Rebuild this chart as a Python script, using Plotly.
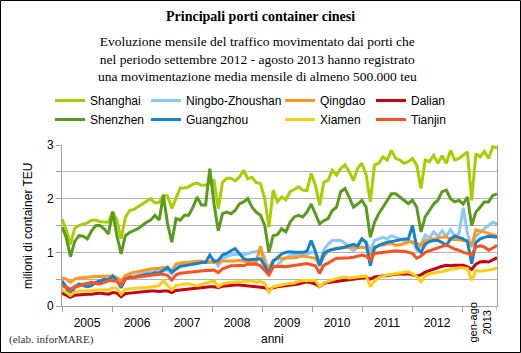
import plotly.graph_objects as go

# ---------------- data (million TEU per month, Jan 2005 - Aug 2013) ----------------
shanghai = [
    1.62, 1.42, 1.15, 1.45, 1.50, 1.52, 1.55, 1.60, 1.60, 1.57, 1.57, 1.56,
    1.76, 1.60, 1.25, 1.65, 1.78, 1.80, 1.85, 1.90, 1.95, 2.00, 1.92, 1.93,
    2.06, 2.05, 1.82, 2.00, 2.20, 2.20, 2.22, 2.27, 2.29, 2.25, 2.25, 2.30,
    2.34, 1.81, 2.30, 2.38, 2.38, 2.33, 2.40, 2.53, 2.37, 2.40, 2.30, 2.28,
    2.00, 1.47, 2.16, 1.94, 2.03, 1.98, 2.13, 2.17, 2.22, 2.16, 2.15, 2.47,
    2.25, 1.88, 2.31, 2.34, 2.53, 2.44, 2.56, 2.63, 2.50, 2.34, 2.56, 2.66,
    2.45, 1.94, 2.63, 2.66, 2.78, 2.72, 2.90, 2.75, 2.72, 2.66, 2.69, 2.75,
    2.62, 2.19, 2.72, 2.69, 2.81, 2.66, 2.80, 2.66, 2.90, 2.72, 2.75, 2.81,
    2.87, 1.97, 2.84, 2.78, 2.88, 2.75, 2.97, 2.94,
]
shenzhen = [
    1.47, 1.28, 0.92, 1.20, 1.31, 1.30, 1.25, 1.40, 1.50, 1.50, 1.44, 1.34,
    1.75, 1.31, 0.97, 1.31, 1.37, 1.40, 1.44, 1.50, 1.56, 1.60, 1.69, 1.60,
    2.06, 1.53, 1.19, 1.63, 1.60, 1.69, 1.69, 1.84, 2.03, 1.88, 1.88, 2.56,
    1.90, 1.40, 1.72, 1.75, 1.72, 1.78, 1.90, 1.94, 2.00, 1.84, 1.75, 1.69,
    1.50, 1.00, 1.31, 1.33, 1.44, 1.38, 1.56, 1.66, 1.69, 1.66, 1.75, 1.90,
    1.72, 1.53, 1.59, 1.63, 1.78, 1.84, 2.13, 2.19, 2.03, 1.84, 1.90, 1.97,
    1.84, 1.28, 1.56, 1.72, 1.84, 1.97, 2.09, 2.09, 2.03, 1.97, 1.91, 1.97,
    1.84, 1.38, 1.66, 1.78, 1.90, 1.97, 2.13, 2.16, 2.00, 1.94, 1.97, 1.90,
    2.03, 1.50, 1.75, 1.84, 1.94, 1.94, 2.06, 2.09,
]
ningbo = [
    0.45, 0.38, 0.30, 0.38, 0.40, 0.41, 0.42, 0.43, 0.44, 0.45, 0.46, 0.50,
    0.50, 0.47, 0.38, 0.50, 0.54, 0.56, 0.58, 0.59, 0.62, 0.64, 0.64, 0.65,
    0.67, 0.66, 0.60, 0.72, 0.75, 0.77, 0.78, 0.80, 0.82, 0.82, 0.81, 0.82,
    0.85, 0.75, 0.88, 0.92, 0.95, 0.96, 0.97, 0.95, 0.98, 1.00, 1.01, 1.05,
    0.90, 0.62, 0.73, 0.76, 0.84, 0.90, 0.94, 0.96, 0.97, 0.98, 0.97, 1.00,
    1.00, 0.80, 1.05, 1.15, 1.22, 1.22, 1.22, 1.17, 1.10, 1.02, 1.10, 1.25,
    1.20, 1.03, 1.22, 1.25, 1.28, 1.25, 1.31, 1.28, 1.25, 1.22, 1.22, 1.20,
    1.05, 1.15, 1.32, 1.26, 1.38, 1.30, 1.40, 1.30, 1.42, 1.30, 1.35, 1.83,
    1.35, 1.10, 1.30, 1.38, 1.44, 1.50, 1.56, 1.53,
]
guangzhou = [
    0.47, 0.35, 0.21, 0.34, 0.41, 0.38, 0.36, 0.38, 0.44, 0.47, 0.50, 0.49,
    0.56, 0.47, 0.34, 0.50, 0.54, 0.53, 0.55, 0.57, 0.59, 0.59, 0.62, 0.61,
    0.66, 0.72, 0.63, 0.69, 0.74, 0.75, 0.77, 0.78, 0.79, 0.81, 0.81, 0.95,
    0.83, 0.85, 0.95, 0.98, 1.03, 1.07, 0.98, 0.88, 0.86, 0.87, 0.88, 0.88,
    0.75, 0.60, 0.83, 0.90, 0.97, 1.00, 1.01, 1.00, 1.00, 1.00, 1.02, 1.22,
    1.02, 0.75, 0.98, 1.03, 1.05, 1.06, 1.08, 1.10, 1.12, 1.15, 1.12, 1.25,
    1.18, 0.75, 1.08, 1.13, 1.16, 1.19, 1.20, 1.22, 1.24, 1.25, 1.25, 1.50,
    1.09, 1.00, 1.15, 1.20, 1.22, 1.22, 1.18, 1.13, 1.25, 1.30, 1.28, 1.25,
    1.20, 0.79, 1.18, 1.25, 1.28, 1.30, 1.29, 1.28,
]
qingdao = [
    0.53, 0.50, 0.44, 0.50, 0.52, 0.53, 0.54, 0.55, 0.55, 0.55, 0.55, 0.56,
    0.56, 0.53, 0.47, 0.57, 0.60, 0.63, 0.64, 0.66, 0.68, 0.69, 0.70, 0.70,
    0.72, 0.70, 0.66, 0.78, 0.80, 0.81, 0.82, 0.82, 0.83, 0.84, 0.82, 0.81,
    0.82, 0.80, 0.84, 0.84, 0.83, 0.84, 0.85, 0.83, 0.82, 0.82, 0.83, 1.11,
    0.79, 0.72, 0.85, 0.88, 0.89, 0.89, 0.90, 0.90, 0.92, 0.93, 0.92, 0.90,
    0.89, 0.76, 0.92, 1.03, 1.05, 1.08, 1.08, 1.08, 1.09, 1.10, 1.08, 1.10,
    1.08, 0.95, 1.10, 1.12, 1.14, 1.15, 1.17, 1.13, 1.15, 1.16, 1.20, 1.18,
    1.17, 1.12, 1.22, 1.23, 1.25, 1.26, 1.28, 1.29, 1.24, 1.24, 1.24, 1.22,
    1.22, 1.12, 1.42, 1.40, 1.38, 1.35, 1.33, 1.31,
]
tianjin = [
    0.38, 0.34, 0.31, 0.35, 0.38, 0.40, 0.42, 0.44, 0.42, 0.41, 0.44, 0.47,
    0.47, 0.46, 0.39, 0.51, 0.52, 0.53, 0.54, 0.56, 0.56, 0.57, 0.58, 0.59,
    0.59, 0.57, 0.48, 0.58, 0.61, 0.62, 0.63, 0.63, 0.64, 0.65, 0.66, 0.66,
    0.67, 0.62, 0.69, 0.72, 0.75, 0.75, 0.76, 0.75, 0.78, 0.78, 0.78, 0.75,
    0.67, 0.58, 0.73, 0.74, 0.74, 0.73, 0.74, 0.75, 0.76, 0.77, 0.79, 0.77,
    0.75, 0.61, 0.76, 0.80, 0.85, 0.89, 0.89, 0.89, 0.90, 0.91, 0.93, 0.95,
    0.93, 0.86, 0.98, 0.99, 1.00, 1.01, 1.02, 1.03, 1.02, 1.02, 1.00, 0.98,
    0.89, 0.93, 1.00, 1.03, 1.06, 1.08, 1.12, 1.14, 1.10, 1.06, 1.04, 1.00,
    0.98, 0.95, 1.10, 1.12, 1.10, 1.04, 1.08, 1.13,
]
xiamen = [
    0.31, 0.26, 0.20, 0.26, 0.28, 0.28, 0.28, 0.29, 0.30, 0.30, 0.30, 0.30,
    0.34, 0.33, 0.22, 0.31, 0.32, 0.33, 0.33, 0.34, 0.34, 0.35, 0.36, 0.38,
    0.47, 0.38, 0.30, 0.38, 0.40, 0.41, 0.41, 0.40, 0.38, 0.40, 0.42, 0.44,
    0.47, 0.36, 0.41, 0.43, 0.44, 0.45, 0.45, 0.45, 0.46, 0.47, 0.44, 0.46,
    0.42, 0.26, 0.36, 0.37, 0.39, 0.41, 0.42, 0.43, 0.46, 0.47, 0.48, 0.47,
    0.48, 0.36, 0.43, 0.46, 0.49, 0.51, 0.53, 0.54, 0.52, 0.53, 0.54, 0.55,
    0.56, 0.36, 0.46, 0.53, 0.56, 0.58, 0.59, 0.60, 0.61, 0.63, 0.64, 0.60,
    0.55, 0.45, 0.56, 0.60, 0.61, 0.63, 0.64, 0.66, 0.68, 0.69, 0.71, 0.71,
    0.70, 0.48, 0.66, 0.65, 0.66, 0.67, 0.68, 0.71,
]
dalian = [
    0.24, 0.20, 0.16, 0.20, 0.21, 0.22, 0.22, 0.22, 0.23, 0.24, 0.23, 0.22,
    0.25, 0.24, 0.17, 0.23, 0.24, 0.25, 0.25, 0.26, 0.27, 0.28, 0.28, 0.27,
    0.28, 0.28, 0.25, 0.29, 0.30, 0.31, 0.32, 0.33, 0.34, 0.34, 0.35, 0.36,
    0.36, 0.34, 0.37, 0.38, 0.38, 0.39, 0.39, 0.38, 0.38, 0.37, 0.36, 0.35,
    0.34, 0.30, 0.34, 0.36, 0.37, 0.38, 0.38, 0.40, 0.41, 0.43, 0.45, 0.43,
    0.41, 0.36, 0.42, 0.44, 0.45, 0.46, 0.47, 0.48, 0.48, 0.50, 0.50, 0.52,
    0.53, 0.50, 0.54, 0.55, 0.56, 0.57, 0.58, 0.60, 0.60, 0.59, 0.60, 0.58,
    0.56, 0.58, 0.63, 0.66, 0.69, 0.72, 0.74, 0.76, 0.75, 0.76, 0.76, 0.76,
    0.73, 0.68, 0.78, 0.82, 0.83, 0.82, 0.86, 0.90,
]

year_labels = ["2005", "2006", "2007", "2008", "2009", "2010", "2011", "2012"]
last_label = "gen-ago<br>2013"
y_ticks = [0, 0.5, 1, 1.5, 2, 2.5, 3]
y_ticktext = ["0", "", "1", "", "2", "", "3"]

# series in drawing order: (name, values, colour, legend column)
series = [
    ("Shanghai", shanghai, "#a6ce00", "legend"),
    ("Ningbo-Zhoushan", ningbo, "#8cc8f5", "legend2"),
    ("Qingdao", qingdao, "#ff961e", "legend3"),
    ("Dalian", dalian, "#c80014", "legend4"),
    ("Shenzhen", shenzhen, "#5a9b1e", "legend"),
    ("Guangzhou", guangzhou, "#1482cd", "legend2"),
    ("Xiamen", xiamen, "#ffcd14", "legend3"),
    ("Tianjin", tianjin, "#ff501e", "legend4"),
]

W, H = 521, 353
ML, MR, MT, MB = 62, 24, 145, 47
PW, PH = W - ML - MR, H - MT - MB


def xp(px):
    return (px - ML) / PW


def yp(py):
    return (MT + PH - py) / PH


n = len(shanghai)
months = list(range(n))
year_step = (n - 1) * 50.0 / PW  # one year = 50 px

fig = go.Figure()
for name, vals, col, lg in series:
    fig.add_trace(go.Scatter(
        x=months, y=vals, mode="lines", name=name,
        line=dict(color=col, width=3), legend=lg,
    ))

sans = "Liberation Sans, Arial, sans-serif"
serif = "Liberation Serif, Times New Roman, serif"

legend_common = dict(
    orientation="v", bgcolor="rgba(0,0,0,0)", borderwidth=0,
    font=dict(family=sans, size=12, color="#000"),
    yanchor="top", xanchor="left", tracegroupgap=0, itemwidth=30,
)
leg_y = yp(86)
fig.update_layout(
    legend=dict(x=xp(50), y=leg_y, **legend_common),
    legend2=dict(x=xp(146), y=leg_y, **legend_common),
    legend3=dict(x=xp(280), y=leg_y, **legend_common),
    legend4=dict(x=xp(371), y=leg_y, **legend_common),
)

fig.update_layout(
    width=W, height=H,
    margin=dict(l=ML, r=MR, t=MT, b=MB),
    paper_bgcolor="white", plot_bgcolor="white",
    showlegend=True,
    xaxis=dict(
        range=[0, n - 1],
        tickvals=[(k + 0.5) * year_step for k in range(len(year_labels))],
        ticktext=year_labels,
        ticks="", showgrid=False, zeroline=False,
        showline=True, linecolor="#a0a0a0", linewidth=1,
        tickfont=dict(family=sans, size=12, color="#000"),
        ticklabelstandoff=6,
        minor=dict(ticks="outside", ticklen=5, tickcolor="#a0a0a0",
                   tick0=0, dtick=year_step, showgrid=False),
    ),
    yaxis=dict(
        range=[0, 3], tickvals=y_ticks, ticktext=y_ticktext,
        ticks="outside", ticklen=5, tickcolor="#a0a0a0",
        showgrid=True, gridcolor="#b4b4b4", gridwidth=1, zeroline=False,
        showline=True, linecolor="#a0a0a0", linewidth=1, mirror=True,
        tickfont=dict(family=sans, size=12, color="#000"),
    ),
    font=dict(family=sans, size=12, color="#000"),
)

annotations = [
    dict(text="<b>Principali porti container cinesi</b>", x=xp(260.5), y=yp(16),
         font=dict(family=serif, size=14, color="#000")),
    dict(text="Evoluzione mensile del traffico movimentato dai porti che<br>"
              "nel periodo settembre 2012 - agosto 2013 hanno registrato<br>"
              "una movimentazione media mensile di almeno 500.000 teu",
         x=xp(257), y=yp(59), font=dict(family=serif, size=13.5, color="#000")),
    dict(text="milioni di container TEU", x=xp(28), y=yp(226), textangle=-90,
         font=dict(family=sans, size=12, color="#000")),
    dict(text="anni", x=xp(272), y=yp(339),
         font=dict(family=sans, size=12, color="#000")),
    dict(text="(elab. inforMARE)", x=xp(7), y=yp(339), xanchor="left",
         font=dict(family=serif, size=11, color="#333")),
    dict(text=last_label, x=xp(479.5), y=yp(323), textangle=-90,
         font=dict(family=sans, size=11, color="#000")),
]
for a in annotations:
    a.setdefault("xanchor", "center")
    a.update(xref="paper", yref="paper", showarrow=False, yanchor="middle")
fig.update_layout(annotations=annotations)

fig.add_shape(type="line", xref="x", yref="paper", x0=n - 1, x1=n - 1,
              y0=0, y1=-5.0 / PH, line=dict(color="#a0a0a0", width=1))
fig.add_shape(type="rect", xref="paper", yref="paper",
              x0=xp(0.5), x1=xp(520.5), y0=yp(352.5), y1=yp(0.5),
              line=dict(color="#000", width=1), layer="above")

fig.write_html("out.html")
